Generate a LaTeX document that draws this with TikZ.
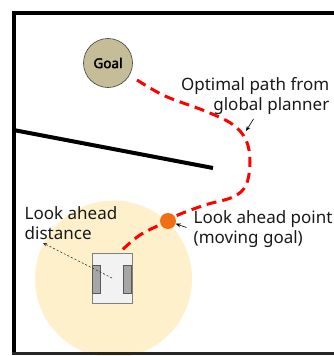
\documentclass[tikz,border=0pt]{standalone}
\usepackage{fontspec}
\setmainfont{Noto Sans}
\newfontfamily\goalfont{Noto Sans}[FakeBold=2.5]
\usetikzlibrary{arrows.meta}
\definecolor{goalfill}{RGB}{196,189,151}
\definecolor{zone}{RGB}{255,240,204}
\definecolor{lapt}{RGB}{240,110,20}
\definecolor{bodyfill}{RGB}{242,242,242}
\definecolor{wheelfill}{RGB}{166,166,166}
\definecolor{wheeldraw}{RGB}{89,89,89}
\tikzset{
  lbl/.style={inner sep=0pt, font=\fontsize{17}{20.5}\selectfont, text=black!90},
  wall/.style={line width=4pt, black},
  pathline/.style={red, line width=3pt, dash pattern=on 10pt off 6pt},
  pointer/.style={black, line width=0.6pt, -{Stealth[length=5pt,width=4pt]}},
  wheel/.style={draw=wheeldraw, fill=wheelfill, line width=0.8pt, minimum width=8pt, minimum height=28pt, inner sep=0pt},
}
\begin{document}
\begin{tikzpicture}[x=1pt,y=-1pt]
\useasboundingbox (0,0) rectangle (334,356);
% look-ahead zone
\fill[zone] (113.5,279) circle (78.5);
% frame
\draw[wall] (334,12.5) -- (13.5,12.5) -- (13.5,355);
\draw[line width=2.7pt, black!85] (11.5,353.8) -- (334,353.8);
% inner wall
\draw[wall] (13.5,130) -- (213,168);
% goal
\node[circle, fill=goalfill, draw=black!75, line width=0.6pt, minimum size=49pt, inner sep=0pt,
      font=\goalfont\fontsize{13.5}{15}\selectfont] (goal) at (108,63) {Goal};
% robot
\node[draw=gray, fill=bodyfill, line width=0.8pt, minimum width=40pt, minimum height=50pt, inner sep=0pt] (robot) at (112,278) {};
\node[wheel] (lwheel) at (96,279) {};
\node[wheel] (rwheel) at (127.5,279) {};
% path
\coordinate (p0) at (137,80);
\coordinate (lapc) at (168,221);
\coordinate (p1) at (119,253);
\draw[pathline] plot[smooth, tension=0.6] coordinates {(p0) (165,96) (205,111) (232,124) (246,140) (250,162) (246,185) (233,197) (205,205) (178,215) (lapc) (140,235) (p1)};
% look-ahead point
\node[circle, fill=lapt, minimum size=16pt, inner sep=0pt] (lap) at (lapc) {};
% labels
\node[lbl, anchor=east, align=right] (optlbl) at (329.5,96) {Optimal path from\\global planner};
\node[lbl, anchor=west, align=left] (laplbl) at (193.5,229) {Look ahead point\\(moving goal)};
\node[lbl, anchor=west, align=left] (distlbl) at (24.5,223) {Look ahead\\distance};
% pointers
\coordinate (opttail) at (253.5,119);
\coordinate (opttip) at (246,131);
\draw[pointer] (opttail) -- (opttip);
\coordinate (laptail) at (186.5,227.5);
\draw[pointer] (laptail) -- (lap);
\coordinate (disttip) at (43,243);
\draw[black!80, line width=0.6pt, dash pattern=on 2pt off 2pt, -{Stealth[length=4pt,width=3.5pt]}] (robot.center) -- (disttip);
\end{tikzpicture}
\end{document}
